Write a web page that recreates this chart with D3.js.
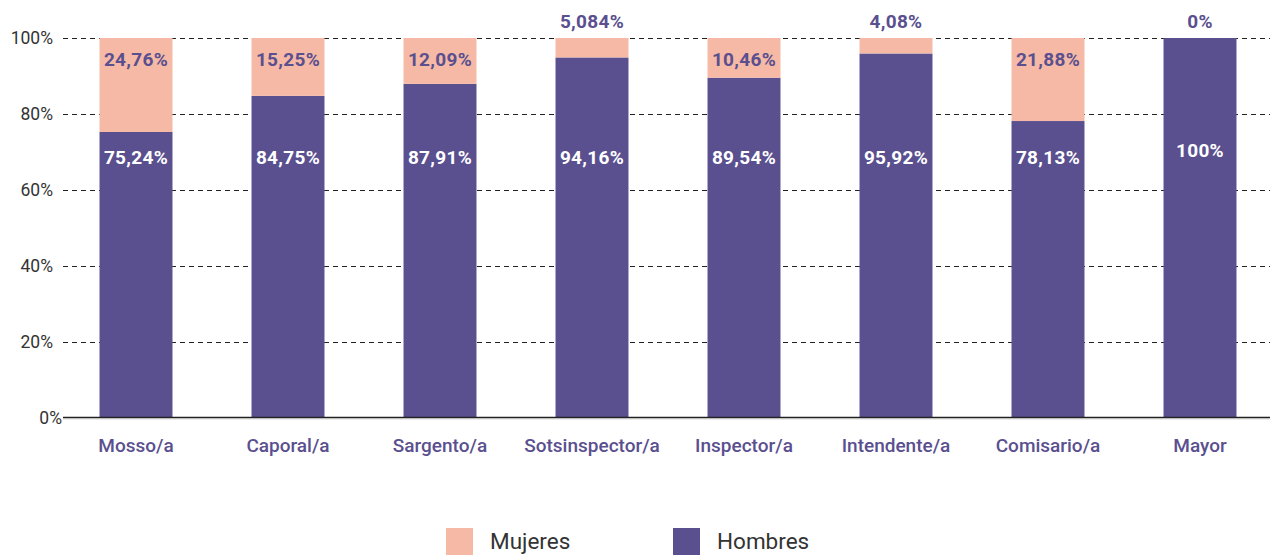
<!DOCTYPE html>
<html>
  <head>
    <meta charset="utf-8" />
    <script src="https://d3js.org/d3.v7.min.js"></script>
    <style>
      body { margin: 0; background: #fff; }
      text { font-family: Roboto, "Noto Sans", sans-serif; }
    </style>
  </head>
  <body>
    <div id="chart"></div>
    <script>
      // values (percent)
      const categories = ["Mosso/a", "Caporal/a", "Sargento/a", "Sotsinspector/a", "Inspector/a", "Intendente/a", "Comisario/a", "Mayor"];
      const mujeres = [24.76, 15.25, 12.09, 5.084, 10.46, 4.08, 21.88, 0];
      const hombres = [75.24, 84.75, 87.91, 94.16, 89.54, 95.92, 78.13, 100];
      const yTicks = [0, 20, 40, 60, 80, 100];
      const series = ["Hombres", "Mujeres"];

      const width = 1270;
      const height = 555;
      const pink = "#f6b9a5";
      const purple = "#5a4f8f";

      const rows = categories.map((c, i) => ({ cat: c, Hombres: hombres[i], Mujeres: mujeres[i] }));
      const stacked = d3.stack().keys(series).offset(d3.stackOffsetExpand)(rows);

      const svg = d3.select("#chart").append("svg").attr("width", width).attr("height", height);

      const x = d3.scaleBand().domain(categories).range([60, 1276]).paddingInner(0.52).paddingOuter(0.26);
      const y = d3.scaleLinear().domain([0, 1]).range([417.5, 38]);
      const color = d3.scaleOrdinal().domain(series).range([purple, pink]);

      // dashed grid
      svg
        .append("g")
        .selectAll("line")
        .data(yTicks.filter((t) => t > 0))
        .join("line")
        .attr("x1", 63)
        .attr("x2", width)
        .attr("y1", (d) => Math.round(y(d / 100)) + 0.5)
        .attr("y2", (d) => Math.round(y(d / 100)) + 0.5)
        .attr("stroke", "#222")
        .attr("stroke-width", 1.2)
        .attr("stroke-dasharray", "5,4");

      // y labels
      svg
        .append("g")
        .selectAll("text")
        .data(yTicks)
        .join("text")
        .attr("x", (d) => (d === 0 ? 62 : 53))
        .attr("y", (d) => y(d / 100))
        .attr("dy", "0.35em")
        .attr("text-anchor", "end")
        .attr("font-size", 17.5)
        .attr("fill", "#333")
        .text((d) => d + "%");

      // bars
      svg
        .append("g")
        .selectAll("g")
        .data(stacked)
        .join("g")
        .attr("fill", (d) => color(d.key))
        .selectAll("rect")
        .data((d) => d)
        .join("rect")
        .attr("x", (d) => x(d.data.cat))
        .attr("width", x.bandwidth())
        .attr("y", (d) => y(d[1]))
        .attr("height", (d) => y(d[0]) - y(d[1]));

      // x axis line
      svg.append("line").attr("x1", 63).attr("x2", width).attr("y1", 417.5).attr("y2", 417.5).attr("stroke", "#222").attr("stroke-width", 1.3);
      svg.append("line").attr("x1", 63).attr("x2", width).attr("y1", 418.8).attr("y2", 418.8).attr("stroke", "#bbb").attr("stroke-width", 1);

      const fmt = (v) => String(v).replace(".", ",") + "%";

      // labels for men (white, inside)
      svg
        .append("g")
        .selectAll("text")
        .data(rows)
        .join("text")
        .attr("x", (d) => x(d.cat) + x.bandwidth() / 2)
        .attr("y", (d) => (d.Mujeres === 0 ? 157 : 164))
        .attr("text-anchor", "middle")
        .attr("font-size", 19)
        .attr("letter-spacing", 0.3)
        .attr("font-weight", 700)
        .attr("fill", "#fff")
        .text((d) => fmt(d.Hombres));

      // labels for women (inside the pink part, or above the bar when it is thin)
      svg
        .append("g")
        .selectAll("text")
        .data(rows)
        .join("text")
        .attr("x", (d) => x(d.cat) + x.bandwidth() / 2)
        .attr("y", (d) => (d.Mujeres >= 10 ? 66 : 28))
        .attr("text-anchor", "middle")
        .attr("font-size", 19)
        .attr("letter-spacing", 0.3)
        .attr("font-weight", 700)
        .attr("fill", purple)
        .text((d) => fmt(d.Mujeres));

      // category labels
      svg
        .append("g")
        .selectAll("text")
        .data(categories)
        .join("text")
        .attr("x", (d) => x(d) + x.bandwidth() / 2)
        .attr("y", 452)
        .attr("text-anchor", "middle")
        .attr("font-size", 19)
        .attr("font-weight", 500)
        .attr("fill", purple)
        .text((d) => d);

      // legend
      const legendX = [446, 673];
      const legend = svg
        .append("g")
        .selectAll("g")
        .data(["Mujeres", "Hombres"])
        .join("g")
        .attr("transform", (d, i) => `translate(${legendX[i]},528)`);
      legend.append("rect").attr("width", 27).attr("height", 27).attr("fill", (d) => color(d));
      legend
        .append("text")
        .attr("x", 44)
        .attr("y", 21)
        .attr("font-size", 22.5)
        .attr("fill", "#333")
        .text((d) => d);
    </script>
  </body>
</html>
